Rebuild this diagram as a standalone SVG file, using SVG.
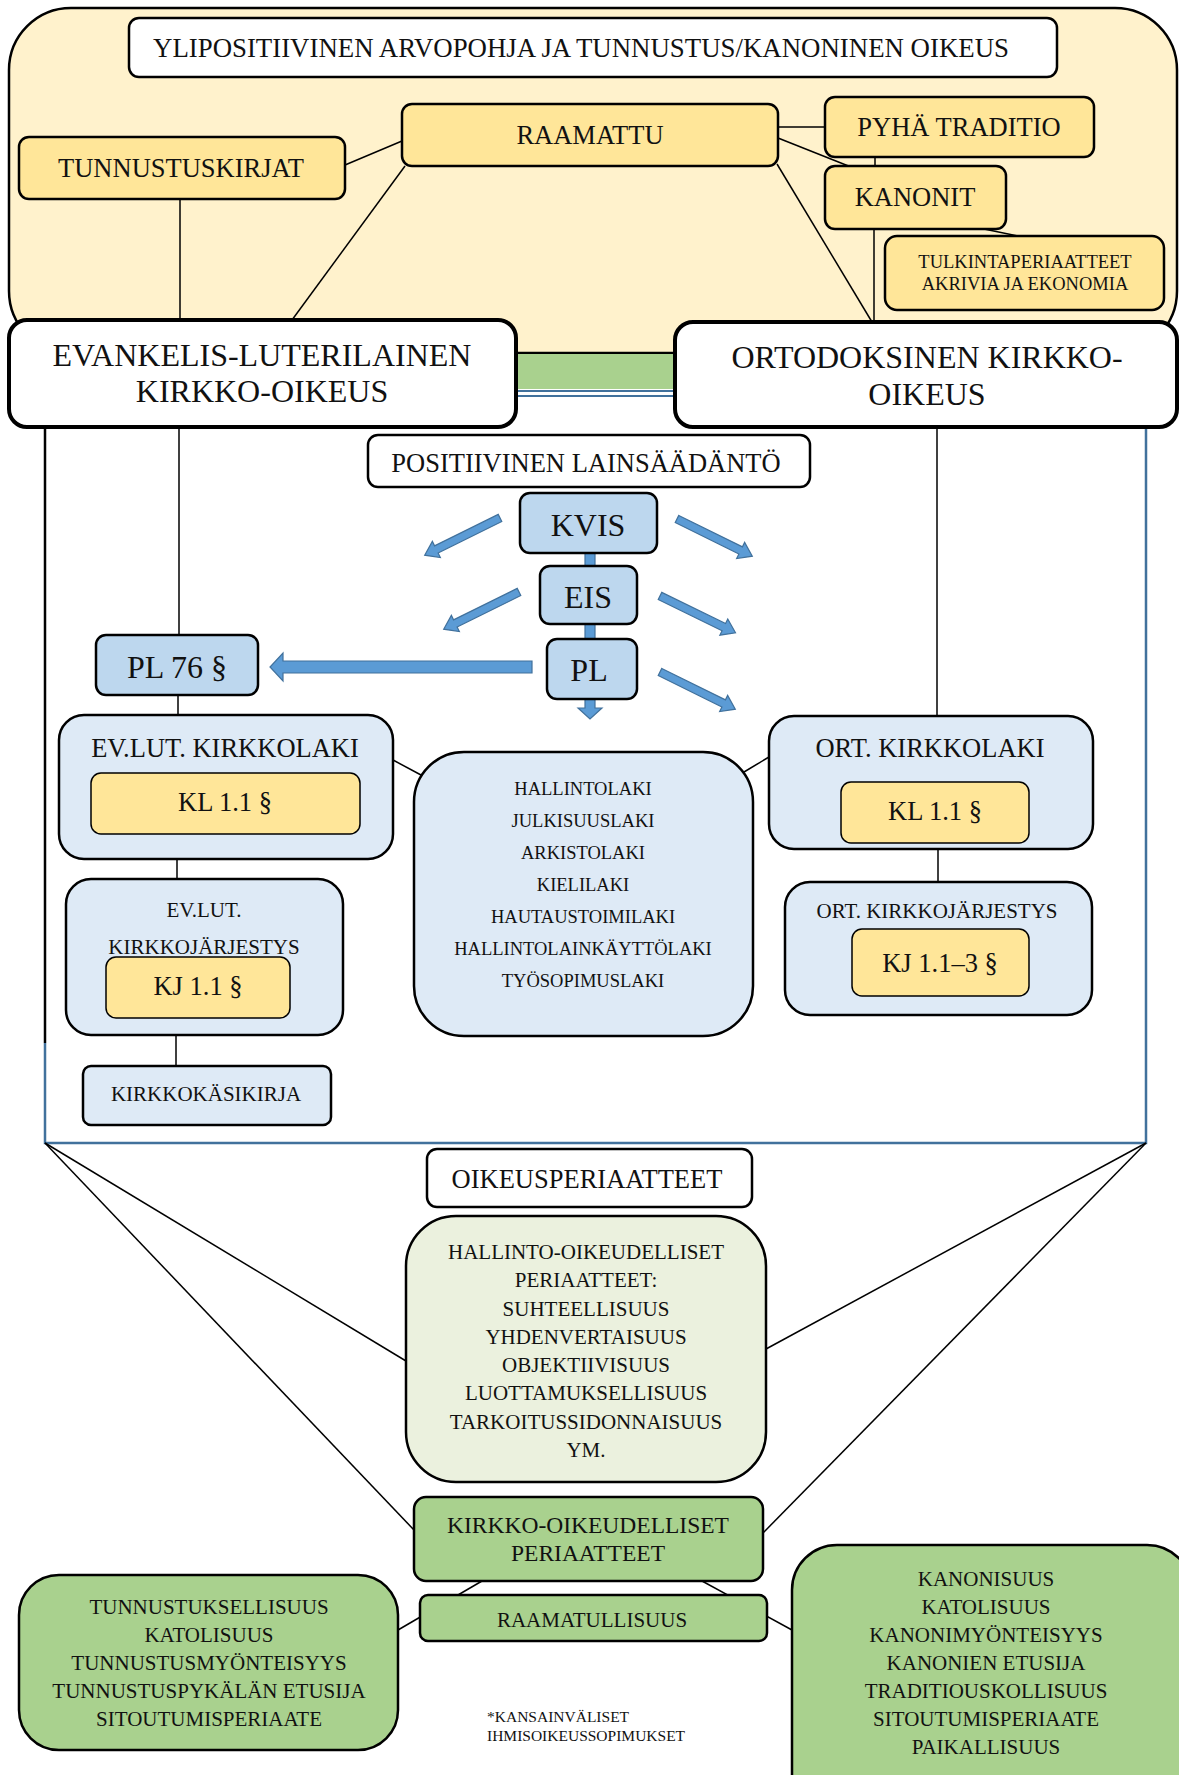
<svg xmlns="http://www.w3.org/2000/svg" width="1179" height="1775" viewBox="0 0 1179 1775">
<style>
text{font-family:"Liberation Serif","Times New Roman",serif;fill:#111;text-anchor:middle}
.b{stroke:#000;stroke-width:2.5}
.bb{stroke:#000;stroke-width:4;fill:#fff}
.w{fill:#fff}
.y{fill:#FFE699}
.lb{fill:#BDD7EE}
.vb{fill:#DEEAF6}
.g{fill:#A9D18E}
.lg{fill:#EBF1DE}
.c line{stroke:#000;stroke-width:1.5}
.ar{fill:#5B9BD5;stroke:#41719C;stroke-width:1.2}
.fr{stroke:#41719C;stroke-width:2.5;fill:none}
.f26{font-size:26.5px}
.f32{font-size:32px}
.f21{font-size:21px}
.f18{font-size:18.5px}
</style>
<defs>
<path id="darr" d="M0,-4 L71,-4 L71,-9 L84,0 L71,9 L71,4 L0,4 Z"/>
</defs>

<g id="background">
<rect x="9" y="8" width="1168" height="345" rx="62" fill="#FFF2CC" stroke="#000" stroke-width="2.5"/>
<rect x="516" y="354" width="159" height="35" fill="#A9D18E"/>
<line x1="516" y1="391" x2="675" y2="391" stroke="#41719C" stroke-width="2"/>
<line x1="516" y1="396" x2="675" y2="396" stroke="#41719C" stroke-width="2"/>
<line x1="45" y1="427" x2="45" y2="1043" stroke="#000" stroke-width="2.5"/>
<polyline class="fr" points="45,1043 45,1143 1146,1143 1146,427"/>
</g>

<g id="connectors" class="c">
<line x1="345" y1="165" x2="402" y2="141"/>
<line x1="180" y1="199" x2="180" y2="320"/>
<line x1="405" y1="166" x2="292" y2="320"/>
<line x1="778" y1="127" x2="825" y2="127"/>
<line x1="778" y1="138" x2="851" y2="167"/>
<line x1="875" y1="157" x2="875" y2="166"/>
<line x1="777" y1="164" x2="872" y2="322"/>
<line x1="874" y1="229" x2="874" y2="322"/>
<line x1="984" y1="229" x2="1018" y2="236"/>
<line x1="179" y1="427" x2="179" y2="635"/>
<line x1="937" y1="427" x2="937" y2="716"/>
<line x1="178" y1="695" x2="178" y2="715"/>
<line x1="177" y1="859" x2="177" y2="879"/>
<line x1="176" y1="1035" x2="176" y2="1066"/>
<line x1="938" y1="849" x2="938" y2="882"/>
<line x1="393" y1="760" x2="421" y2="775"/>
<line x1="744" y1="772" x2="769" y2="757"/>
<line x1="45" y1="1143" x2="406" y2="1361"/>
<line x1="45" y1="1143" x2="414" y2="1530"/>
<line x1="1146" y1="1143" x2="766" y2="1349"/>
<line x1="1146" y1="1143" x2="763" y2="1533"/>
<line x1="482" y1="1581" x2="398" y2="1630"/>
<line x1="702" y1="1581" x2="792" y2="1630"/>
<g id="blue-arrows">
<polygon class="ar" points="585,553 595,553 595,708 602,708 590,719 578,708 585,708"/>
<polygon class="ar" points="532,661 532,673 283,673 283,681 270,667 283,653 283,661"/>
<use href="#darr" class="ar" transform="translate(500,518) rotate(153.7)"/>
<use href="#darr" class="ar" transform="translate(519,592) rotate(153.7)"/>
<use href="#darr" class="ar" transform="translate(677,519) rotate(26.3)"/>
<use href="#darr" class="ar" transform="translate(660,596) rotate(26)"/>
<use href="#darr" class="ar" transform="translate(660,672) rotate(26.3)"/>
</g>
</g>

<g id="header"><rect class="w b" x="129" y="18" width="928" height="59" rx="10"/><text class="f26" x="581" y="57" textLength="856" lengthAdjust="spacingAndGlyphs">YLIPOSITIIVINEN ARVOPOHJA JA TUNNUSTUS/KANONINEN OIKEUS</text></g>
<g id="raamattu"><rect class="y b" x="402" y="104" width="376" height="62" rx="10"/><text class="f26" x="590" y="144">RAAMATTU</text></g>
<g id="tunnustuskirjat"><rect class="y b" x="19" y="137" width="326" height="62" rx="10"/><text class="f26" x="181" y="177">TUNNUSTUSKIRJAT</text></g>
<g id="pyha-traditio"><rect class="y b" x="825" y="97" width="269" height="60" rx="10"/><text class="f26" x="959" y="136">PYHÄ TRADITIO</text></g>
<g id="kanonit"><rect class="y b" x="825" y="166" width="181" height="63" rx="10"/><text class="f26" x="915" y="206">KANONIT</text></g>
<g id="tulkinta"><rect class="y b" x="885" y="236" width="279" height="74" rx="12"/><text class="f18" x="1025" y="268">TULKINTAPERIAATTEET</text><text class="f18" x="1025" y="290">AKRIVIA JA EKONOMIA</text></g>

<g id="evlut-kirkko-oikeus"><rect class="bb" x="9" y="320" width="507" height="107" rx="18"/><text class="f32" x="262" y="366">EVANKELIS-LUTERILAINEN</text><text class="f32" x="262" y="402">KIRKKO-OIKEUS</text></g>
<g id="ort-kirkko-oikeus"><rect class="bb" x="675" y="322" width="502" height="105" rx="18"/><text class="f32" x="927" y="368">ORTODOKSINEN KIRKKO-</text><text class="f32" x="927" y="405">OIKEUS</text></g>

<g id="positiivinen"><rect class="w b" x="368" y="435" width="442" height="52" rx="10"/><text class="f26" x="586" y="472">POSITIIVINEN LAINSÄÄDÄNTÖ</text></g>
<g id="kvis"><rect class="lb b" x="520" y="493" width="137" height="60" rx="10"/><text class="f32" x="588" y="536">KVIS</text></g>
<g id="eis"><rect class="lb b" x="540" y="566" width="97" height="58" rx="10"/><text class="f32" x="588" y="608">EIS</text></g>
<g id="pl"><rect class="lb b" x="547" y="639" width="90" height="60" rx="10"/><text class="f32" x="589" y="681">PL</text></g>
<g id="pl76"><rect class="lb b" x="96" y="635" width="162" height="60" rx="10"/><text class="f32" x="177" y="678">PL 76 §</text></g>

<g id="evlut-kirkkolaki"><rect class="vb b" x="59" y="715" width="334" height="144" rx="25"/><text class="f26" x="225" y="757">EV.LUT. KIRKKOLAKI</text>
<rect class="y" stroke="#000" stroke-width="1.5" x="91" y="773" width="269" height="61" rx="10"/><text class="f26" x="225" y="811">KL 1.1 §</text></g>
<g id="ort-kirkkolaki"><rect class="vb b" x="769" y="716" width="324" height="133" rx="25"/><text class="f26" x="930" y="757">ORT. KIRKKOLAKI</text>
<rect class="y" stroke="#000" stroke-width="1.5" x="841" y="782" width="188" height="61" rx="10"/><text class="f26" x="935" y="820">KL 1.1 §</text></g>
<g id="laws"><rect class="vb b" x="414" y="752" width="339" height="284" rx="50"/>
<text class="f18" x="583" y="795">HALLINTOLAKI</text><text class="f18" x="583" y="827">JULKISUUSLAKI</text><text class="f18" x="583" y="859">ARKISTOLAKI</text><text class="f18" x="583" y="891">KIELILAKI</text><text class="f18" x="583" y="923">HAUTAUSTOIMILAKI</text><text class="f18" x="583" y="955">HALLINTOLAINKÄYTTÖLAKI</text><text class="f18" x="583" y="987">TYÖSOPIMUSLAKI</text></g>
<g id="evlut-kj"><rect class="vb b" x="66" y="879" width="277" height="156" rx="25"/><text class="f21" x="204" y="917">EV.LUT.</text><text class="f21" x="204" y="954">KIRKKOJÄRJESTYS</text>
<rect class="y" stroke="#000" stroke-width="1.5" x="106" y="957" width="184" height="61" rx="10"/><text class="f26" x="198" y="995">KJ 1.1 §</text></g>
<g id="kirkkokasikirja"><rect class="vb b" x="83" y="1066" width="248" height="59" rx="8"/><text class="f21" x="206" y="1101">KIRKKOKÄSIKIRJA</text></g>
<g id="ort-kj"><rect class="vb b" x="785" y="882" width="307" height="133" rx="25"/><text class="f21" x="937" y="918">ORT. KIRKKOJÄRJESTYS</text>
<rect class="y" stroke="#000" stroke-width="1.5" x="852" y="929" width="177" height="67" rx="10"/><text class="f26" x="940" y="972">KJ 1.1–3 §</text></g>

<g id="oikeusperiaatteet"><rect class="w b" x="427" y="1149" width="325" height="58" rx="10"/><text class="f26" x="587" y="1188">OIKEUSPERIAATTEET</text></g>
<g id="hallinto-oik"><rect class="lg b" x="406" y="1216" width="360" height="266" rx="50"/>
<text class="f21" x="586" y="1259">HALLINTO-OIKEUDELLISET</text><text class="f21" x="586" y="1287">PERIAATTEET:</text><text class="f21" x="586" y="1316">SUHTEELLISUUS</text><text class="f21" x="586" y="1344">YHDENVERTAISUUS</text><text class="f21" x="586" y="1372">OBJEKTIIVISUUS</text><text class="f21" x="586" y="1400">LUOTTAMUKSELLISUUS</text><text class="f21" x="586" y="1429">TARKOITUSSIDONNAISUUS</text><text class="f21" x="586" y="1457">YM.</text></g>
<g id="kirkko-oik"><rect class="g b" x="414" y="1497" width="349" height="84" rx="12"/><text x="588" y="1533" font-size="23.5">KIRKKO-OIKEUDELLISET</text><text x="588" y="1561" font-size="23.5">PERIAATTEET</text></g>
<g id="raamatullisuus"><rect class="g b" x="420" y="1595" width="347" height="46" rx="8"/><text class="f21" x="592" y="1627">RAAMATULLISUUS</text></g>
<g id="left-principles"><rect class="g b" x="19" y="1575" width="379" height="175" rx="40"/>
<text class="f21" x="209" y="1614">TUNNUSTUKSELLISUUS</text><text class="f21" x="209" y="1642">KATOLISUUS</text><text class="f21" x="209" y="1670">TUNNUSTUSMYÖNTEISYYS</text><text class="f21" x="209" y="1698">TUNNUSTUSPYKÄLÄN ETUSIJA</text><text class="f21" x="209" y="1726">SITOUTUMISPERIAATE</text></g>
<g id="right-principles"><rect class="g b" x="792" y="1545" width="400" height="300" rx="45"/>
<text class="f21" x="986" y="1586">KANONISUUS</text><text class="f21" x="986" y="1614">KATOLISUUS</text><text class="f21" x="986" y="1642">KANONIMYÖNTEISYYS</text><text class="f21" x="986" y="1670">KANONIEN ETUSIJA</text><text class="f21" x="986" y="1698">TRADITIOUSKOLLISUUS</text><text class="f21" x="986" y="1726">SITOUTUMISPERIAATE</text><text class="f21" x="986" y="1754">PAIKALLISUUS</text></g>
<g id="footnote"><text x="487" y="1722" font-size="15.5" style="text-anchor:start">*KANSAINVÄLISET</text><text x="487" y="1741" font-size="15.5" style="text-anchor:start">IHMISOIKEUSSOPIMUKSET</text></g>
</svg>
